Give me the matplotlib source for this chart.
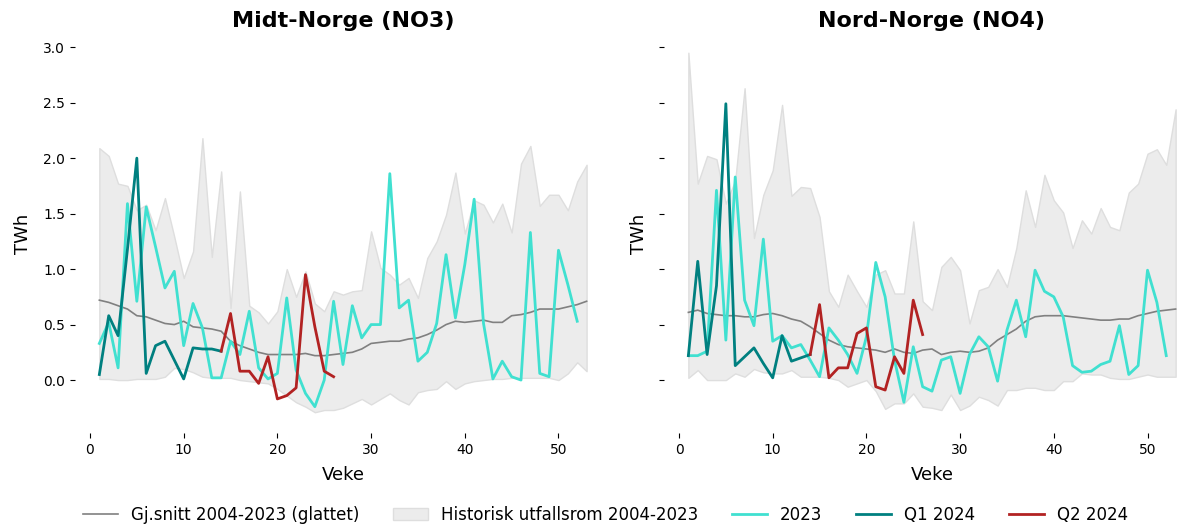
import matplotlib
matplotlib.use("Agg")
import matplotlib.pyplot as plt
from matplotlib.lines import Line2D
from matplotlib.patches import Patch
import numpy as np

weeks = list(range(1, 54))
weeks_2023 = list(range(1, 53))
weeks_q1 = list(range(1, 15))
weeks_q2 = list(range(14, 27))

# ---- Midt-Norge (NO3) ----
no3_upper = [2.09, 2.02, 1.77, 1.75, 1.53, 1.58, 1.35, 1.64, 1.29, 0.92,
             1.16, 2.18, 1.11, 1.88, 0.65, 1.70, 0.67, 0.61, 0.51, 0.62,
             1.00, 0.75, 0.98, 0.69, 0.62, 0.80, 0.77, 0.80, 0.81, 1.34,
             1.01, 0.95, 0.86, 0.92, 0.74, 1.10, 1.25, 1.49, 1.87, 1.32,
             1.62, 1.58, 1.42, 1.59, 1.33, 1.95, 2.11, 1.57, 1.67, 1.67,
             1.53, 1.79, 1.94]
no3_lower = [0.01, 0.01, 0.00, 0.00, 0.01, 0.01, 0.01, 0.03, 0.11, 0.10,
             0.07, 0.03, 0.02, 0.02, 0.02, 0.00, -0.01, -0.02, -0.03, -0.08,
             -0.14, -0.20, -0.24, -0.29, -0.27, -0.27, -0.25, -0.21, -0.17, -0.22,
             -0.17, -0.12, -0.18, -0.22, -0.11, -0.09, -0.08, -0.01, -0.08, -0.03,
             -0.01, 0.00, 0.01, 0.01, 0.02, 0.02, 0.02, 0.02, 0.02, 0.00,
             0.06, 0.16, 0.08]
no3_mean = [0.72, 0.70, 0.67, 0.64, 0.58, 0.57, 0.54, 0.51, 0.50, 0.53,
            0.48, 0.47, 0.46, 0.44, 0.35, 0.31, 0.28, 0.25, 0.23, 0.23,
            0.23, 0.23, 0.24, 0.22, 0.22, 0.23, 0.24, 0.25, 0.28, 0.33,
            0.34, 0.35, 0.35, 0.37, 0.38, 0.41, 0.45, 0.50, 0.53, 0.52,
            0.53, 0.54, 0.52, 0.52, 0.58, 0.59, 0.61, 0.64, 0.64, 0.64,
            0.66, 0.68, 0.71]
no3_2023 = [0.33, 0.52, 0.11, 1.59, 0.71, 1.56, 1.20, 0.83, 0.98, 0.31,
            0.69, 0.47, 0.02, 0.02, 0.35, 0.23, 0.62, 0.11, 0.01, 0.06,
            0.74, 0.09, -0.12, -0.24, 0.00, 0.71, 0.14, 0.67, 0.38, 0.50,
            0.50, 1.86, 0.65, 0.72, 0.17, 0.25, 0.51, 1.13, 0.56, 1.04,
            1.63, 0.51, 0.01, 0.17, 0.03, 0.00, 1.33, 0.06, 0.03, 1.17,
            0.86, 0.53]
no3_q1 = [0.05, 0.58, 0.40, 1.18, 2.00, 0.06, 0.31, 0.35, 0.18, 0.01,
          0.29, 0.28, 0.28, 0.26]
no3_q2 = [0.26, 0.60, 0.08, 0.08, -0.03, 0.21, -0.17, -0.14, -0.07, 0.95,
          0.48, 0.08, 0.03]

# ---- Nord-Norge (NO4) ----
no4_upper = [2.95, 1.77, 2.02, 1.99, 1.59, 1.80, 2.63, 1.28, 1.67, 1.89,
             2.48, 1.66, 1.74, 1.73, 1.47, 0.80, 0.66, 0.95, 0.80, 0.66,
             0.95, 0.99, 0.78, 0.78, 1.43, 0.71, 0.63, 1.02, 1.11, 0.99,
             0.51, 0.81, 0.84, 1.00, 0.84, 1.19, 1.71, 1.38, 1.85, 1.62,
             1.51, 1.19, 1.44, 1.32, 1.55, 1.38, 1.35, 1.69, 1.77, 2.04,
             2.08, 1.94, 2.44]
no4_lower = [0.02, 0.09, 0.00, 0.00, 0.00, 0.06, 0.03, 0.10, 0.07, 0.06,
             0.06, 0.09, 0.03, 0.03, 0.03, 0.02, 0.00, -0.06, -0.03, 0.00,
             -0.10, -0.26, -0.21, -0.21, -0.12, -0.24, -0.25, -0.27, -0.13, -0.27,
             -0.23, -0.15, -0.18, -0.23, -0.09, -0.09, -0.07, -0.07, -0.09, -0.09,
             -0.01, -0.01, 0.06, 0.05, 0.05, 0.02, 0.01, 0.01, 0.03, 0.05,
             0.03, 0.03, 0.03]
no4_mean = [0.61, 0.63, 0.60, 0.59, 0.58, 0.58, 0.57, 0.57, 0.59, 0.60,
            0.58, 0.55, 0.53, 0.48, 0.42, 0.36, 0.32, 0.30, 0.29, 0.28,
            0.27, 0.25, 0.28, 0.25, 0.24, 0.27, 0.28, 0.23, 0.25, 0.26,
            0.25, 0.26, 0.29, 0.36, 0.41, 0.46, 0.53, 0.57, 0.58, 0.58,
            0.58, 0.57, 0.56, 0.55, 0.54, 0.54, 0.55, 0.55, 0.58, 0.60,
            0.62, 0.63, 0.64]
no4_2023 = [0.22, 0.22, 0.26, 1.71, 0.36, 1.83, 0.72, 0.49, 1.27, 0.35,
            0.40, 0.29, 0.32, 0.18, 0.03, 0.47, 0.36, 0.23, 0.06, 0.39,
            1.06, 0.75, 0.18, -0.20, 0.30, -0.06, -0.10, 0.18, 0.21, -0.12,
            0.23, 0.39, 0.30, -0.01, 0.45, 0.72, 0.39, 0.99, 0.80, 0.75,
            0.57, 0.13, 0.07, 0.08, 0.14, 0.17, 0.49, 0.05, 0.13, 0.99,
            0.70, 0.22]
no4_q1 = [0.22, 1.07, 0.23, 0.85, 2.49, 0.13, 0.21, 0.29, 0.15, 0.02,
          0.40, 0.17, 0.20, 0.23]
no4_q2 = [0.23, 0.68, 0.02, 0.11, 0.11, 0.42, 0.47, -0.06, -0.09, 0.21,
          0.06, 0.72, 0.41]

titles = ["Midt-Norge (NO3)", "Nord-Norge (NO4)"]
panels = [
    (no3_upper, no3_lower, no3_mean, no3_2023, no3_q1, no3_q2),
    (no4_upper, no4_lower, no4_mean, no4_2023, no4_q1, no4_q2),
]

C_MEAN = "#808080"
C_BAND = "#ececec"
C_BAND_EDGE = "#dedede"
C_2023 = "#40E0D0"
C_Q1 = "#008080"
C_Q2 = "#B22222"

fig = plt.figure(figsize=(11.79, 5.29), dpi=100)
ax1 = fig.add_axes([0.0636, 0.1815, 0.4546, 0.7524])
ax2 = fig.add_axes([0.5632, 0.1815, 0.4546, 0.7524], sharey=ax1)

for ax, title, (up, lo, mean, y23, q1, q2) in zip([ax1, ax2], titles, panels):
    ax.fill_between(weeks, lo, up, color=C_BAND, edgecolor=C_BAND_EDGE, linewidth=1.0, zorder=1)
    ax.plot(weeks, mean, color=C_MEAN, linewidth=1.2, zorder=2)
    ax.plot(weeks_2023, y23, color=C_2023, linewidth=2, zorder=3)
    ax.plot(weeks_q1, q1, color=C_Q1, linewidth=2, zorder=4)
    ax.plot(weeks_q2, q2, color=C_Q2, linewidth=2, zorder=5)
    ax.set_title(title, fontsize=16, fontweight="bold")
    ax.set_xlabel("Veke", fontsize=13, labelpad=7)
    ax.set_ylabel("TWh", fontsize=13, labelpad=8)
    for s in ax.spines.values():
        s.set_visible(False)
    ax.tick_params(labelsize=10)
    ax.set_xticks([0, 10, 20, 30, 40, 50])

ax1.set_ylim(-0.477, 3.11)
ax1.set_yticks([0.0, 0.5, 1.0, 1.5, 2.0, 2.5, 3.0])
ax2.tick_params(labelleft=False)

handles = [
    Line2D([], [], color=C_MEAN, linewidth=1.2),
    Patch(facecolor=C_BAND, edgecolor=C_BAND_EDGE),
    Line2D([], [], color=C_2023, linewidth=2),
    Line2D([], [], color=C_Q1, linewidth=2),
    Line2D([], [], color=C_Q2, linewidth=2),
]
labels = ["Gj.snitt 2004-2023 (glattet)", "Historisk utfallsrom 2004-2023",
          "2023", "Q1 2024", "Q2 2024"]
fig.legend(handles, labels, loc="center", bbox_to_anchor=(0.5136, 0.027),
           ncol=5, frameon=False, fontsize=12, handlelength=2.1, columnspacing=2.0)

fig.savefig("out.png", dpi=100)
